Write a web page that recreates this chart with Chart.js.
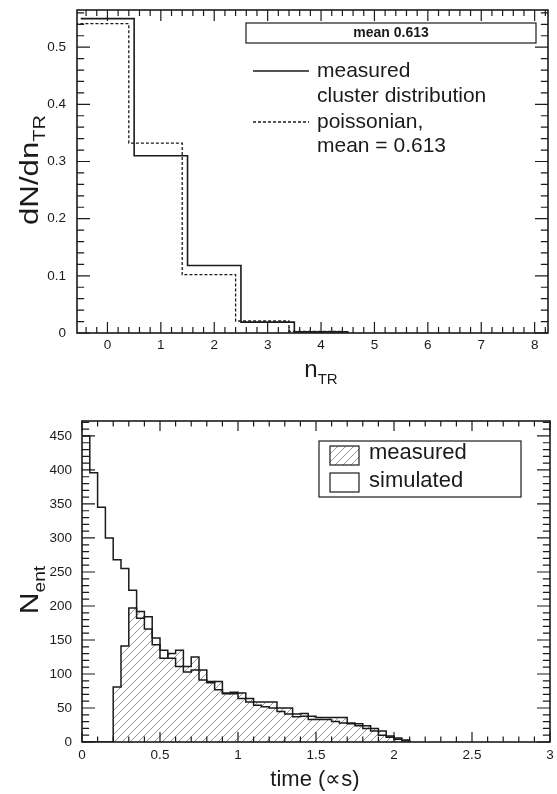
<!DOCTYPE html>
<html>
<head>
<meta charset="utf-8">
<script src="https://cdn.jsdelivr.net/npm/chart.js@4.4.1/dist/chart.umd.min.js"></script>
<style>
  body { margin: 0; background: #fff; }
  #wrap { position: relative; width: 557px; height: 794px; }
  .panel { position: absolute; left: 0; width: 557px; }
</style>
</head>
<body>
<div id="wrap">
  <div class="panel" style="top:0;height:400px"><canvas id="chart-clusters"></canvas></div>
  <div class="panel" style="top:400px;height:394px"><canvas id="chart-time"></canvas></div>
</div>
<script>
// top panel: number of TR clusters
const nTR = [0, 1, 2, 3, 4]
const measuredFrac = [0.55, 0.31, 0.118, 0.019, 0.002]
const poissonFrac = [0.541, 0.332, 0.102, 0.021, 0.003]
const nTicks = [0, 1, 2, 3, 4, 5, 6, 7, 8]
const fracTicks = [0, 0.1, 0.2, 0.3, 0.4, 0.5]

// bottom panel: time spectrum, bins start (µs), 0.05 wide
const timeBins = [0, 0.05, 0.1, 0.15, 0.2, 0.25, 0.3, 0.35, 0.4, 0.45, 0.5, 0.55, 0.6, 0.65, 0.7, 0.75, 0.8, 0.85, 0.9, 0.95,
  1, 1.05, 1.1, 1.15, 1.2, 1.25, 1.3, 1.35, 1.4, 1.45, 1.5, 1.55, 1.6, 1.65, 1.7, 1.75, 1.8, 1.85, 1.9, 1.95, 2, 2.05]
const simulated = [450, 396, 345, 300, 268, 255, 223, 182, 184, 153, 135, 123, 111, 103, 106, 91, 89, 77, 72, 71,
  64, 59, 54, 52, 50, 45, 41, 37, 38, 33, 33, 33, 30, 28, 27, 24, 20, 16, 10, 7, 4, 2]
const measured = [0, 0, 0, 0, 81, 141, 197, 192, 166, 143, 123, 130, 135, 111, 125, 106, 87, 89, 71, 73,
  72, 64, 59, 59, 59, 50, 50, 41, 42, 38, 36, 36, 36, 36, 28, 27, 24, 20, 16, 9, 6, 3]
const timeTicks = [0, 0.5, 1, 1.5, 2, 2.5, 3]
const countTicks = [0, 50, 100, 150, 200, 250, 300, 350, 400, 450]

const FONT = "'Liberation Sans', Arial, Helvetica, sans-serif"
const INK = '#1b1b1b'

// histogram outline as points for a stepped line
function steps(starts, values, width) {
  const pts = starts.map((x, i) => ({x: x, y: values[i]}))
  const end = starts[starts.length - 1] + width
  pts.push({x: end, y: values[values.length - 1]})
  pts.push({x: end, y: 0})
  return pts
}

function hatchPattern() {
  const c = document.createElement('canvas')
  c.width = 8; c.height = 8
  const g = c.getContext('2d')
  g.strokeStyle = '#7a7a7a'
  g.lineWidth = 0.8
  g.beginPath()
  g.moveTo(0, 8); g.lineTo(8, 0)
  g.moveTo(-1, 1); g.lineTo(1, -1)
  g.moveTo(7, 9); g.lineTo(9, 7)
  g.stroke()
  return g.createPattern(c, 'repeat')
}
const hatch = hatchPattern()

function subText(ctx, x, y, main, sub, size) {
  const small = Math.round(size * 0.62)
  ctx.font = `${size}px ${FONT}`
  const w1 = ctx.measureText(main).width
  ctx.font = `${small}px ${FONT}`
  const w2 = ctx.measureText(sub).width
  const x0 = x - (w1 + w2) / 2
  ctx.textAlign = 'left'
  ctx.textBaseline = 'alphabetic'
  ctx.font = `${size}px ${FONT}`
  ctx.fillText(main, x0, y)
  ctx.font = `${small}px ${FONT}`
  ctx.fillText(sub, x0 + w1, y + size * 0.28)
}

// vertical title, stretched a little along its length like the original
function rotated(ctx, cx, cy, stretch, fn) {
  ctx.save()
  ctx.translate(cx, cy)
  ctx.rotate(-Math.PI / 2)
  ctx.scale(stretch, 1)
  fn()
  ctx.restore()
}

// no automatic label padding, the frame is placed by hand
function noPad(s) {
  s.paddingTop = 0; s.paddingBottom = 0; s.paddingLeft = 0; s.paddingRight = 0
}

// frame with inward ticks on all four sides, ROOT style
const frameTicks = {
  id: 'frameTicks',
  afterDatasetsDraw(chart, args, o) {
    const {ctx, chartArea: a} = chart
    const {x, y} = chart.scales
    ctx.save()
    ctx.strokeStyle = INK
    ctx.lineWidth = 1.2
    ctx.beginPath()
    for (let k = Math.ceil(x.min / o.xStep - 1e-6); k * o.xStep <= x.max + 1e-9; k++) {
      const px = x.getPixelForValue(k * o.xStep)
      const len = k % o.xEvery === 0 ? o.xMajor : o.xMajor * 0.55
      ctx.moveTo(px, a.bottom); ctx.lineTo(px, a.bottom - len)
      ctx.moveTo(px, a.top); ctx.lineTo(px, a.top + len)
    }
    for (let k = Math.ceil(y.min / o.yStep - 1e-6); k * o.yStep <= y.max + 1e-9; k++) {
      const py = y.getPixelForValue(k * o.yStep)
      const len = k % o.yEvery === 0 ? o.yMajor : o.yMajor * 0.55
      ctx.moveTo(a.left, py); ctx.lineTo(a.left + len, py)
      ctx.moveTo(a.right, py); ctx.lineTo(a.right - len, py)
    }
    ctx.stroke()
    ctx.lineWidth = 1.6
    ctx.strokeRect(a.left, a.top, a.right - a.left, a.bottom - a.top)
    ctx.restore()
  }
}

const topDecor = {
  id: 'topDecor',
  afterDraw(chart) {
    const ctx = chart.ctx
    ctx.save()
    ctx.fillStyle = INK
    ctx.strokeStyle = INK
    // stats box
    ctx.lineWidth = 1.2
    ctx.fillStyle = '#fff'
    ctx.fillRect(246, 23, 290, 20)
    ctx.strokeRect(246, 23, 290, 20)
    ctx.fillStyle = INK
    ctx.font = `bold 14px ${FONT}`
    ctx.textAlign = 'center'
    ctx.textBaseline = 'middle'
    ctx.fillText('mean 0.613', 391, 33.5)
    // legend
    ctx.lineWidth = 1.5
    ctx.beginPath(); ctx.moveTo(253, 71); ctx.lineTo(309, 71); ctx.stroke()
    ctx.setLineDash([3, 2])
    ctx.lineWidth = 1.3
    ctx.beginPath(); ctx.moveTo(253, 122); ctx.lineTo(309, 122); ctx.stroke()
    ctx.setLineDash([])
    ctx.font = `21px ${FONT}`
    ctx.textAlign = 'left'
    ctx.textBaseline = 'alphabetic'
    ctx.fillText('measured', 317, 77)
    ctx.fillText('cluster distribution', 317, 102)
    ctx.fillText('poissonian,', 317, 128)
    ctx.fillText('mean = 0.613', 317, 152)
    // axis titles
    subText(ctx, 321, 377, 'n', 'TR', 24)
    rotated(ctx, 29, 170, 1.25, () => subText(ctx, 0, 9, 'dN/dn', 'TR', 25))
    ctx.restore()
  }
}

const bottomDecor = {
  id: 'bottomDecor',
  afterDraw(chart) {
    const ctx = chart.ctx
    ctx.save()
    ctx.strokeStyle = INK
    ctx.fillStyle = '#fff'
    ctx.lineWidth = 1.2
    ctx.fillRect(319, 41, 202, 56)
    ctx.strokeRect(319, 41, 202, 56)
    ctx.fillStyle = hatch
    ctx.fillRect(330, 46, 29, 19)
    ctx.strokeRect(330, 46, 29, 19)
    ctx.strokeRect(330, 73, 29, 19)
    ctx.fillStyle = INK
    ctx.font = `22px ${FONT}`
    ctx.textAlign = 'left'
    ctx.textBaseline = 'alphabetic'
    ctx.fillText('measured', 369, 59)
    ctx.fillText('simulated', 369, 87)
    ctx.textAlign = 'center'
    ctx.fillText('time (\u221Ds)', 315, 386)
    rotated(ctx, 29, 190, 1.2, () => subText(ctx, 0, 9, 'N', 'ent', 25))
    ctx.restore()
  }
}

Chart.defaults.font.family = FONT
Chart.defaults.color = INK

const clusterChart = new Chart(document.getElementById('chart-clusters'), {
  type: 'line',
  data: {
    datasets: [
      {
        label: 'measured cluster distribution',
        data: steps(nTR.map(n => n - 0.5), measuredFrac, 1),
        borderColor: INK,
        borderWidth: 1.6,
        stepped: true,
        pointRadius: 0,
        fill: false
      },
      {
        label: 'poissonian, mean = 0.613',
        data: steps(nTR.map(n => n - 0.6), poissonFrac, 1),
        borderColor: INK,
        borderWidth: 1.3,
        borderDash: [3, 2],
        stepped: true,
        pointRadius: 0,
        fill: false
      }
    ]
  },
  options: {
    responsive: true,
    maintainAspectRatio: false,
    animation: false,
    layout: {padding: {top: 10, right: 9, left: 0, bottom: 0}},
    plugins: {
      legend: {display: false},
      tooltip: {enabled: false},
      frameTicks: {xStep: 0.2, xEvery: 5, xMajor: 11, yStep: 0.02, yEvery: 5, yMajor: 13}
    },
    scales: {
      x: {
        type: 'linear',
        min: -0.57,
        max: 8.25,
        grid: {display: false, drawTicks: false},
        border: {display: false},
        ticks: {font: {size: 13.5}, padding: 4, maxRotation: 0, autoSkip: false, callback: v => String(v)},
        afterBuildTicks: s => { s.ticks = nTicks.map(v => ({value: v})) },
        afterFit: s => { s.height = 67; noPad(s) }
      },
      y: {
        min: 0,
        max: 0.565,
        grid: {display: false, drawTicks: false},
        border: {display: false},
        ticks: {font: {size: 13.5}, padding: 11, autoSkip: false, callback: v => String(v)},
        afterBuildTicks: s => { s.ticks = fracTicks.map(v => ({value: v})) },
        afterFit: s => { s.width = 77; noPad(s) }
      }
    }
  },
  plugins: [frameTicks, topDecor]
})

const timeChart = new Chart(document.getElementById('chart-time'), {
  type: 'line',
  data: {
    datasets: [
      {
        label: 'simulated',
        data: steps(timeBins, simulated, 0.05),
        borderColor: INK,
        borderWidth: 1.5,
        stepped: true,
        pointRadius: 0,
        fill: false
      },
      {
        label: 'measured',
        data: steps(timeBins, measured, 0.05),
        borderColor: INK,
        borderWidth: 1.5,
        backgroundColor: hatch,
        stepped: true,
        pointRadius: 0,
        fill: 'origin'
      }
    ]
  },
  options: {
    responsive: true,
    maintainAspectRatio: false,
    animation: false,
    layout: {padding: {top: 21, right: 7, left: 0, bottom: 0}},
    plugins: {
      legend: {display: false},
      tooltip: {enabled: false},
      frameTicks: {xStep: 0.1, xEvery: 5, xMajor: 10, yStep: 10, yEvery: 5, yMajor: 13}
    },
    scales: {
      x: {
        type: 'linear',
        min: 0,
        max: 3,
        grid: {display: false, drawTicks: false},
        border: {display: false},
        ticks: {font: {size: 13.5}, padding: 5, maxRotation: 0, autoSkip: false, callback: v => String(v)},
        afterBuildTicks: s => { s.ticks = timeTicks.map(v => ({value: v})) },
        afterFit: s => { s.height = 52; noPad(s) }
      },
      y: {
        min: 0,
        max: 472,
        grid: {display: false, drawTicks: false},
        border: {display: false},
        ticks: {font: {size: 13.5}, padding: 10, autoSkip: false, callback: v => String(v)},
        afterBuildTicks: s => { s.ticks = countTicks.map(v => ({value: v})) },
        afterFit: s => { s.width = 82; noPad(s) }
      }
    }
  },
  plugins: [frameTicks, bottomDecor]
})
</script>
</body>
</html>
